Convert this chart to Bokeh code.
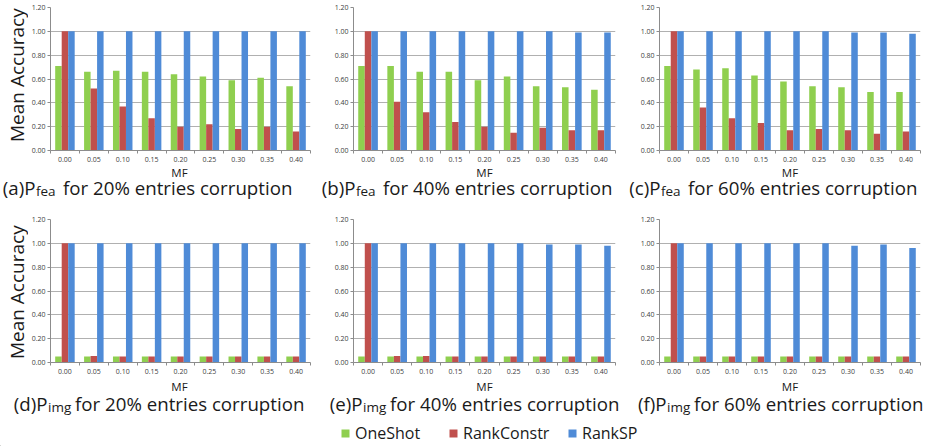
import math
from bokeh.plotting import figure
from bokeh.models import (FixedTicker, NumeralTickFormatter, Label, Legend,
                          LegendItem, ColumnDataSource)
from bokeh.transform import dodge
from bokeh.layouts import column, row
from bokeh.embed import file_html
from bokeh.resources import INLINE

# ---------------- data ----------------
mf = ["0.00", "0.05", "0.10", "0.15", "0.20", "0.25", "0.30", "0.35", "0.40"]
series_names = ["OneShot", "RankConstr", "RankSP"]

# (a) P_fea, 20% entries corruption
a_oneshot = [0.71, 0.66, 0.67, 0.66, 0.64, 0.62, 0.59, 0.61, 0.54]
a_rankconstr = [1.00, 0.52, 0.37, 0.27, 0.20, 0.22, 0.18, 0.20, 0.16]
a_ranksp = [1.00, 1.00, 1.00, 1.00, 1.00, 1.00, 1.00, 1.00, 1.00]
# (b) P_fea, 40%
b_oneshot = [0.71, 0.71, 0.66, 0.66, 0.59, 0.62, 0.54, 0.53, 0.51]
b_rankconstr = [1.00, 0.41, 0.32, 0.24, 0.20, 0.15, 0.19, 0.17, 0.17]
b_ranksp = [1.00, 1.00, 1.00, 1.00, 1.00, 1.00, 1.00, 0.99, 0.99]
# (c) P_fea, 60%
c_oneshot = [0.71, 0.68, 0.69, 0.63, 0.58, 0.54, 0.53, 0.49, 0.49]
c_rankconstr = [1.00, 0.36, 0.27, 0.23, 0.17, 0.18, 0.17, 0.14, 0.16]
c_ranksp = [1.00, 1.00, 1.00, 1.00, 1.00, 1.00, 0.99, 0.99, 0.98]
# (d) P_img, 20%
d_oneshot = [0.05, 0.05, 0.05, 0.05, 0.05, 0.05, 0.05, 0.05, 0.05]
d_rankconstr = [1.00, 0.055, 0.05, 0.05, 0.05, 0.05, 0.05, 0.05, 0.05]
d_ranksp = [1.00, 1.00, 1.00, 1.00, 1.00, 1.00, 1.00, 1.00, 1.00]
# (e) P_img, 40%
e_oneshot = [0.05, 0.05, 0.05, 0.05, 0.05, 0.05, 0.05, 0.05, 0.05]
e_rankconstr = [1.00, 0.055, 0.055, 0.05, 0.05, 0.05, 0.05, 0.05, 0.05]
e_ranksp = [1.00, 1.00, 1.00, 1.00, 1.00, 1.00, 0.99, 0.99, 0.98]
# (f) P_img, 60%
f_oneshot = [0.05, 0.05, 0.05, 0.05, 0.05, 0.05, 0.05, 0.05, 0.05]
f_rankconstr = [1.00, 0.05, 0.05, 0.05, 0.05, 0.05, 0.05, 0.05, 0.05]
f_ranksp = [1.00, 1.00, 1.00, 1.00, 1.00, 1.00, 0.98, 0.99, 0.96]

y_ticks = [0.0, 0.2, 0.4, 0.6, 0.8, 1.0, 1.2]
y_label = "Mean Accuracy"
x_label = "MF"

# ---------------- style ----------------
GREEN = "#8fcf4f"
RED = "#c0504d"
BLUE = "#4f8bd7"
FONT = "Open Sans"
AXIS_GREY = "#8c8c8c"
GRID_GREY = "#b0b0b0"
TXT = "#1a1a1a"
CAP_SIZE = "18.7px"
SUB_SIZE = "13.5px"

FH = 143            # frame height of every panel
BB = 16             # bottom border (tick marks + tick labels)
TOP_BT, BOT_BT = 7, 19
TOP_H = TOP_BT + FH + BB
BOT_H = BOT_BT + FH + BB
YLAB_W = 28
PANEL_W = [285, 305, 305]
PANEL_BL = [20, 40, 41]
BR = 3


def blank(w, h):
    f = figure(width=w, height=h, x_range=(0, w), y_range=(0, h),
               output_backend="svg", toolbar_location=None, min_border=0,
               x_axis_location=None, y_axis_location=None, title_location=None)
    f.grid.visible = False
    f.outline_line_color = None
    return f


def panel(one, rank, sp, top_row, col):
    p = figure(width=PANEL_W[col], height=TOP_H if top_row else BOT_H,
               x_range=(-0.5, len(mf) - 0.5), y_range=(0, 1.2),
               output_backend="svg", toolbar_location=None, title_location=None,
               min_border_left=PANEL_BL[col], min_border_right=BR,
               min_border_top=TOP_BT if top_row else BOT_BT,
               min_border_bottom=BB)
    xs = list(range(len(mf)))
    src = ColumnDataSource(dict(x=xs, one=one, rank=rank, sp=sp))
    bw = 0.225
    p.vbar(x=dodge("x", -bw), top="one", width=bw, source=src,
           fill_color=GREEN, line_color=None)
    p.vbar(x=dodge("x", 0.0), top="rank", width=bw, source=src,
           fill_color=RED, line_color=None)
    p.vbar(x=dodge("x", bw), top="sp", width=bw, source=src,
           fill_color=BLUE, line_color=None)

    p.outline_line_color = None
    p.xgrid.visible = False
    p.ygrid.grid_line_color = GRID_GREY

    p.yaxis.ticker = FixedTicker(ticks=y_ticks)
    p.yaxis.formatter = NumeralTickFormatter(format="0.00")
    p.yaxis.axis_line_color = AXIS_GREY
    p.yaxis.major_tick_line_color = AXIS_GREY
    p.yaxis.major_tick_out = 3
    p.yaxis.major_tick_in = 0
    p.yaxis.minor_tick_line_color = None
    p.yaxis.major_label_text_font = FONT
    p.yaxis.major_label_text_font_size = "7px"
    p.yaxis.major_label_text_color = "#404040"
    p.yaxis.major_label_standoff = 2

    p.xaxis.ticker = FixedTicker(ticks=xs, minor_ticks=[i - 0.5 for i in range(len(mf) + 1)])
    p.xaxis.major_label_overrides = {i: m for i, m in enumerate(mf)}
    p.xaxis.axis_line_color = AXIS_GREY
    p.xaxis.major_tick_out = 0
    p.xaxis.major_tick_in = 0
    p.xaxis.minor_tick_out = 3
    p.xaxis.minor_tick_in = 0
    p.xaxis.minor_tick_line_color = AXIS_GREY
    p.xaxis.major_label_text_font = FONT
    p.xaxis.major_label_text_font_size = "7px"
    p.xaxis.major_label_text_color = "#404040"
    p.xaxis.major_label_standoff = 3
    return p


def ylab(h):
    f = blank(YLAB_W, h)
    f.add_layout(Label(x=16, y=BB + FH / 2, text=y_label, angle=math.pi / 2,
                       text_align="center", text_baseline="middle",
                       text_font=FONT, text_font_size="19px", text_color=TXT))
    return f


# centres of the three frames in page / strip pixels
frame_lefts = []
acc = YLAB_W
for w, bl in zip(PANEL_W, PANEL_BL):
    frame_lefts.append((acc + bl, acc + w - BR))
    acc += w
frame_centres = [(l + r) / 2 for l, r in frame_lefts]


def mf_labels(f, y):
    for cx in frame_centres:
        f.add_layout(Label(x=cx, y=y, text=x_label, text_align="center",
                           text_baseline="middle", text_font=FONT,
                           text_font_size="11.5px", text_color=TXT))


def caption(f, x_end, base, letter, sub, pct):
    f.add_layout(Label(x=x_end, y=base, text=f"({letter})P", text_align="right",
                       text_baseline="alphabetic", text_font=FONT,
                       text_font_size=CAP_SIZE, text_color=TXT))
    f.add_layout(Label(x=x_end + 0.5, y=base - 3, text=sub, text_align="left",
                       text_baseline="alphabetic", text_font=FONT,
                       text_font_size=SUB_SIZE, text_color=TXT))
    f.add_layout(Label(x=x_end + 27.5, y=base, text=f"for {pct} entries corruption",
                       text_align="left", text_baseline="alphabetic", text_font=FONT,
                       text_font_size=CAP_SIZE, text_color=TXT))


pa = panel(a_oneshot, a_rankconstr, a_ranksp, True, 0)
pb = panel(b_oneshot, b_rankconstr, b_ranksp, True, 1)
pc = panel(c_oneshot, c_rankconstr, c_ranksp, True, 2)
pd = panel(d_oneshot, d_rankconstr, d_ranksp, False, 0)
pe = panel(e_oneshot, e_rankconstr, e_ranksp, False, 1)
pf = panel(f_oneshot, f_rankconstr, f_ranksp, False, 2)

ya = ylab(TOP_H)
yd = ylab(BOT_H)

STRIP_W = 930
cap_top = blank(STRIP_W, 34)
mf_labels(cap_top, 28)
caption(cap_top, 35, 13, "a", "fea", "20%")
caption(cap_top, 355, 13, "b", "fea", "40%")
caption(cap_top, 660, 13, "c", "fea", "60%")

cap_bot = blank(STRIP_W, 68)
mf_labels(cap_bot, 60)
caption(cap_bot, 47, 43, "d", "img", "20%")
caption(cap_bot, 362, 43, "e", "img", "40%")
caption(cap_bot, 666, 43, "f", "img", "60%")

# legend: one item per series, swatches taken from off-screen bar renderers
for name, col, lx in zip(series_names, [GREEN, RED, BLUE], [340, 448, 567]):
    r = cap_bot.vbar(x=[-100], top=[1], width=1, fill_color=col, line_color=None)
    leg = Legend(items=[LegendItem(label=name, renderers=[r])], location=(lx, 2),
                 orientation="horizontal", border_line_color=None,
                 background_fill_alpha=0, padding=0, margin=0,
                 glyph_width=10, glyph_height=10, label_standoff=5,
                 label_text_font=FONT, label_text_font_size="16px",
                 label_text_color=TXT)
    cap_bot.add_layout(leg)

layout = column(row(ya, pa, pb, pc), cap_top, row(yd, pd, pe, pf), cap_bot)

with open("out.html", "w") as fh:
    fh.write(file_html(layout, INLINE))
